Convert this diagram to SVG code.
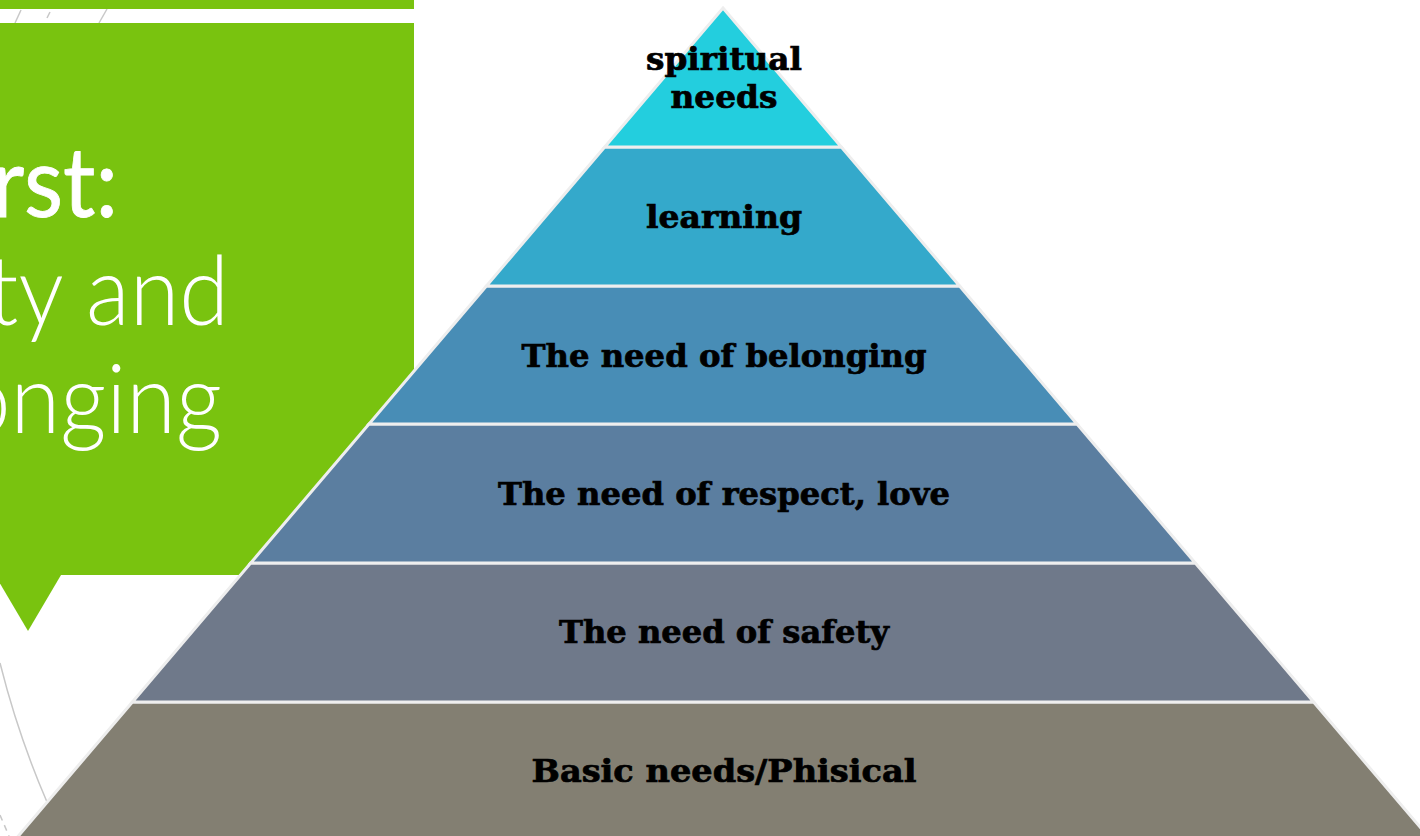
<svg xmlns="http://www.w3.org/2000/svg" width="1420" height="836" viewBox="0 0 1420 836">
  <style>
    .lvl { stroke: #eeeeee; stroke-width: 3; stroke-linejoin: miter; }
    .lbl { font-family: "DejaVu Serif", "Liberation Serif", serif; font-weight: bold; font-size: 31px; fill: #000000; stroke: #000000; stroke-width: 0.7; text-anchor: middle; }
    .title { font-family: Lato, "Open Sans", sans-serif; font-size: 97px; fill: #ffffff; text-anchor: end; }
    .deco { stroke: #c8c8c8; stroke-width: 1.5; fill: none; }
  </style>
  <rect width="1420" height="836" fill="#ffffff"/>
  <g id="decoration">
    <line class="deco" x1="21" y1="10" x2="15" y2="23"/>
    <line class="deco" x1="50" y1="12" x2="47" y2="18"/>
    <line class="deco" x1="107" y1="9" x2="99" y2="23"/>
    <path class="deco" d="M0,663 Q18,735 47,802"/>
    <line class="deco" x1="0" y1="815" x2="9" y2="836" stroke-dasharray="6 5"/>
  </g>
  <g id="title-panel">
    <rect x="0" y="0" width="414" height="9" fill="#79c30f"/>
    <rect x="0" y="23" width="414" height="552" fill="#79c30f"/>
    <polygon points="-5,575 61,575 28,631" fill="#79c30f"/>
    <text class="title" transform="translate(118,217) scale(0.93,1)" x="0" y="0" font-weight="400" stroke="#ffffff" stroke-width="0.8">rst:</text>
    <text class="title" transform="translate(229,325) scale(0.93,1)" x="0" y="0" font-weight="300">ty and</text>
    <text class="title" transform="translate(222,433) scale(0.93,1)" x="0" y="0" font-weight="300">onging</text>
  </g>
  <g id="level-basic">
    <polygon class="lvl" fill="#837f72" points="132.4,702 1313.6,702 1431.9,841 14.1,841"/>
    <text class="lbl" x="724" y="782" textLength="385" lengthAdjust="spacingAndGlyphs">Basic needs/Phisical</text>
  </g>
  <g id="level-safety">
    <polygon class="lvl" fill="#6f798a" points="250.7,563 1195.3,563 1313.6,702 132.4,702"/>
    <text class="lbl" x="724" y="643" textLength="330" lengthAdjust="spacingAndGlyphs">The need of safety</text>
  </g>
  <g id="level-respect">
    <polygon class="lvl" fill="#5b7ea0" points="369,424 1077,424 1195.3,563 250.7,563"/>
    <text class="lbl" x="724" y="505" textLength="452" lengthAdjust="spacingAndGlyphs">The need of respect, love</text>
  </g>
  <g id="level-belonging">
    <polygon class="lvl" fill="#488db6" points="486.4,286 959.6,286 1077,424 369,424"/>
    <text class="lbl" x="724" y="367" textLength="405" lengthAdjust="spacingAndGlyphs">The need of belonging</text>
  </g>
  <g id="level-learning">
    <polygon class="lvl" fill="#34a9cb" points="604.7,147 841.3,147 959.6,286 486.4,286"/>
    <text class="lbl" x="724" y="228" textLength="156" lengthAdjust="spacingAndGlyphs">learning</text>
  </g>
  <g id="level-spiritual">
    <polygon class="lvl" fill="#23cede" points="723,8 841.3,147 604.7,147"/>
    <text class="lbl" x="724" y="70" textLength="156" lengthAdjust="spacingAndGlyphs">spiritual</text>
    <text class="lbl" x="724" y="108" textLength="107" lengthAdjust="spacingAndGlyphs">needs</text>
  </g>
  <g id="connectors"/>
</svg>
